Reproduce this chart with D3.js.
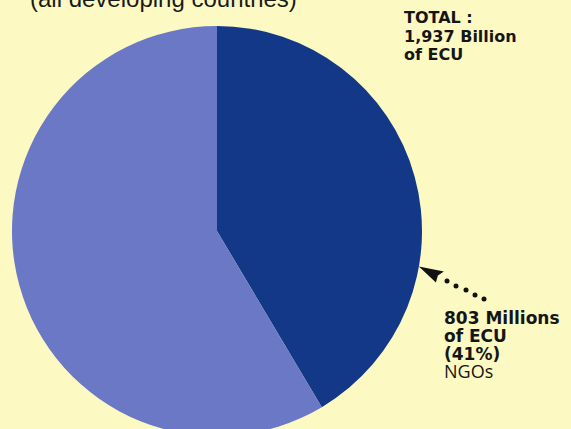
<!DOCTYPE html>
<html>
<head>
<meta charset="utf-8">
<script src="https://cdn.jsdelivr.net/npm/d3@7"></script>
<style>
  body { margin: 0; background: #fdf9c2; }
  svg { display: block; }
</style>
</head>
<body>
<div id="chart"></div>
<script>
// data
const categories = ["NGOs", "Other"];
const values = [803, 1134];          // millions of ECU, total 1937
const colours = ["#123887", "#6a78c6"];
const totalLines = ["TOTAL :", "1,937 Billion", "of ECU"];
const ngoLines = ["803 Millions", "of ECU", "(41%)"];
const ngoName = "NGOs";
const subtitle = "(all developing countries)";

const width = 571, height = 429;
const cx = 217, cy = 231, radius = 205;

const svg = d3.select("#chart")
  .append("svg")
  .attr("width", width)
  .attr("height", height);

svg.append("rect")
  .attr("width", width).attr("height", height)
  .attr("fill", "#fdf9c2");

const data = categories.map((c, i) => ({ name: c, value: values[i] }));

const pie = d3.pie().value(d => d.value).sort(null);
const arc = d3.arc().innerRadius(0).outerRadius(radius);

const g = svg.append("g")
  .attr("transform", "translate(" + cx + "," + cy + ")");

g.selectAll("path")
  .data(pie(data))
  .enter().append("path")
    .attr("d", arc)
    .attr("fill", (d, i) => colours[i]);

// subtitle, cut at the top edge
svg.append("text")
  .attr("x", 30).attr("y", 7)
  .attr("font-family", "Liberation Sans, Arial, sans-serif")
  .attr("font-size", 24)
  .attr("fill", "#1a1a1a")
  .text(subtitle);

const boldFont = "DejaVu Sans, sans-serif";

// total label
svg.append("g").selectAll("text")
  .data(totalLines)
  .enter().append("text")
    .attr("x", 404)
    .attr("y", (d, i) => 23 + i * 18.5)
    .attr("font-family", boldFont)
    .attr("font-weight", 700)
    .attr("font-size", 16)
    .attr("fill", "#151515")
    .text(d => d);

// arrow pointing at the NGO slice edge
const tipAngle = 100 * Math.PI / 180;
const tipX = cx + radius * Math.sin(tipAngle);
const tipY = cy - radius * Math.cos(tipAngle);

svg.append("path")
  .attr("d", "M" + tipX + "," + tipY +
             " L" + (tipX + 25) + "," + (tipY + 5) +
             " L" + (tipX + 19) + "," + (tipY + 9) +
             " L" + (tipX + 17) + "," + (tipY + 16) + " Z")
  .attr("fill", "#111");

const dots = [[447, 281], [456, 286], [466, 290], [475, 295], [484, 299]];
svg.append("g").selectAll("circle")
  .data(dots)
  .enter().append("circle")
    .attr("cx", d => d[0]).attr("cy", d => d[1])
    .attr("r", 2.5)
    .attr("fill", "#111");

// NGO label
svg.append("g").selectAll("text")
  .data(ngoLines)
  .enter().append("text")
    .attr("x", 444)
    .attr("y", (d, i) => 324 + i * 18)
    .attr("font-family", boldFont)
    .attr("font-weight", 700)
    .attr("font-size", 17)
    .attr("fill", "#151515")
    .text(d => d);

svg.append("text")
  .attr("x", 444).attr("y", 378)
  .attr("font-family", "Open Sans, sans-serif")
  .attr("font-size", 18)
  .attr("fill", "#151515")
  .text(ngoName);
</script>
</body>
</html>
